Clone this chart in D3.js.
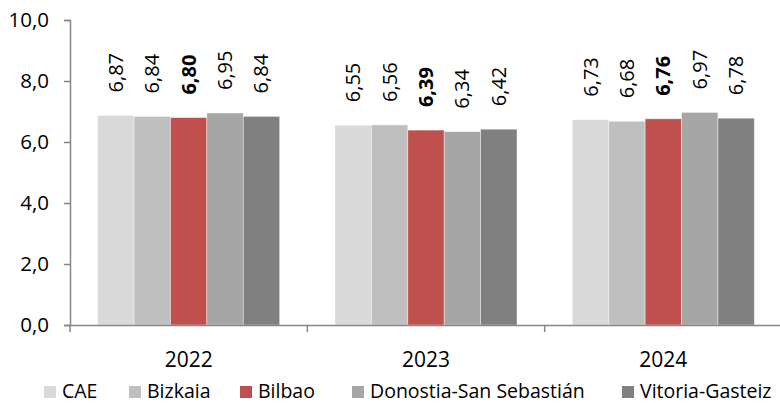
<!DOCTYPE html>
<html>
<head>
<meta charset="utf-8">
<script src="https://cdn.jsdelivr.net/npm/d3@7"></script>
<style>
  body { margin: 0; background: #fff; }
  svg { font-family: "Open Sans", "Noto Sans", sans-serif; }
</style>
</head>
<body>
<div id="chart"></div>
<script>
const years = ["2022", "2023", "2024"];
const series = ["CAE", "Bizkaia", "Bilbao", "Donostia-San Sebastián", "Vitoria-Gasteiz"];
const colors = ["#d9d9d9", "#bfbfbf", "#c0504d", "#a6a6a6", "#808080"];
const values = {
  "CAE": [6.87, 6.55, 6.73],
  "Bizkaia": [6.84, 6.56, 6.68],
  "Bilbao": [6.80, 6.39, 6.76],
  "Donostia-San Sebastián": [6.95, 6.34, 6.97],
  "Vitoria-Gasteiz": [6.84, 6.42, 6.78]
};
const yTicks = [0, 2, 4, 6, 8, 10];

const W = 780, H = 405;
const margin = { top: 20, left: 70, bottom: 80 };
const xEnd = 782;
const y0 = 325;

const svg = d3.select("#chart").append("svg")
  .attr("width", W).attr("height", H);

const x = d3.scaleBand().domain(years).range([margin.left, xEnd]).padding(0);
const x1 = d3.scaleBand().domain(series).range([0, x.bandwidth()])
  .paddingInner(0).paddingOuter(0.76);
const y = d3.scaleLinear().domain([0, 10]).range([y0, margin.top]);

const fmt = v => d3.format(".1f")(v).replace(".", ",");
const fmt2 = v => d3.format(".2f")(v).replace(".", ",");

// bars
const rows = [];
years.forEach((yr, i) => series.forEach((s, j) => rows.push({ yr, s, j, v: values[s][i] })));

svg.append("g").selectAll("rect")
  .data(rows)
  .join("rect")
  .attr("x", d => x(d.yr) + x1(d.s))
  .attr("y", d => y(d.v))
  .attr("width", x1.bandwidth())
  .attr("height", d => y(0) - y(d.v))
  .attr("fill", d => colors[d.j])
  .attr("stroke", "#fff")
  .attr("stroke-opacity", 0.5)
  .attr("stroke-width", 0.8);

// value labels
svg.append("g").selectAll("text")
  .data(rows)
  .join("text")
  .attr("transform", d => `translate(${x(d.yr) + x1(d.s) + x1.bandwidth() / 2},${y(d.v) - 23}) rotate(-90)`)
  .attr("dy", "0.35em")
  .attr("font-size", 20)
  .attr("font-weight", d => d.s === "Bilbao" ? "bold" : "normal")
  .attr("fill", "#000")
  .text(d => fmt2(d.v));

// y axis
const yAxis = svg.append("g")
  .attr("transform", `translate(${margin.left},0)`)
  .call(d3.axisLeft(y).tickValues(yTicks).tickFormat(fmt).tickSize(6).tickPadding(15));
yAxis.select(".domain").attr("stroke", "#868686").attr("stroke-width", 1.5);
yAxis.selectAll(".tick line").attr("stroke", "#868686").attr("stroke-width", 1.5);
yAxis.selectAll(".tick text").attr("font-size", 20.5).attr("fill", "#000")
  .attr("font-family", "'Open Sans', sans-serif");

// x axis
const xAxis = svg.append("g")
  .attr("transform", `translate(0,${y0})`)
  .call(d3.axisBottom(x).tickSize(0).tickPadding(27));
xAxis.select(".domain").attr("stroke", "#868686").attr("stroke-width", 1.5);
xAxis.selectAll(".tick text").attr("font-size", 21).attr("fill", "#000")
  .attr("font-family", "'Open Sans', sans-serif");
xAxis.selectAll(".sep")
  .data(years.concat(["end"]))
  .join("line")
  .attr("class", "sep")
  .attr("x1", (d, i) => i < years.length ? x(d) : xEnd)
  .attr("x2", (d, i) => i < years.length ? x(d) : xEnd)
  .attr("y1", 0).attr("y2", 7)
  .attr("stroke", "#868686").attr("stroke-width", 1.5);

// legend
const legendX = [44, 129, 240, 352, 622];
const legend = svg.append("g").attr("transform", "translate(0,398)");
const items = legend.selectAll("g")
  .data(series)
  .join("g")
  .attr("transform", (d, i) => `translate(${legendX[i]},0)`);
items.append("rect")
  .attr("x", 0).attr("y", -12).attr("width", 12).attr("height", 12)
  .attr("fill", (d, i) => colors[i]);
items.append("text")
  .attr("x", 18)
  .attr("font-size", 19.5).attr("fill", "#000")
  .text(d => d);
</script>
</body>
</html>
